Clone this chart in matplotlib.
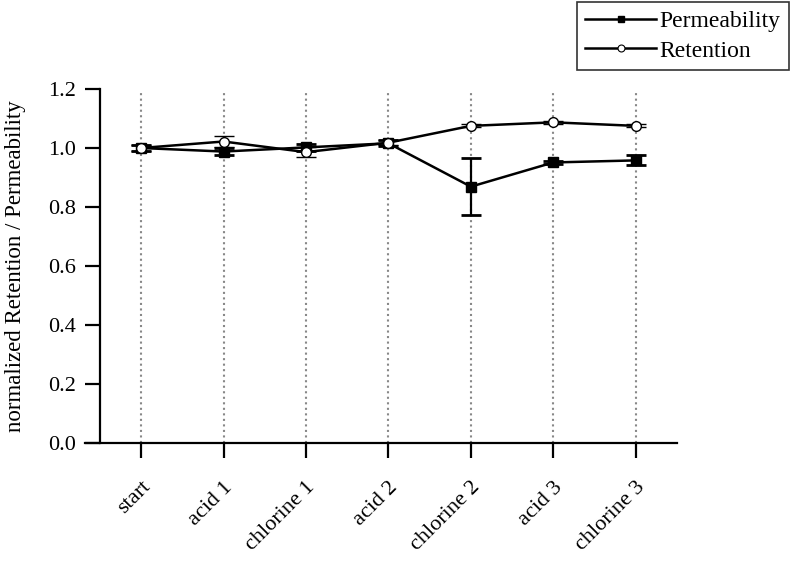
import matplotlib
matplotlib.use("Agg")
import matplotlib.pyplot as plt
from matplotlib.lines import Line2D

# data
steps = ["start", "acid 1", "chlorine 1", "acid 2", "chlorine 2", "acid 3", "chlorine 3"]
perm = [1.000, 0.988, 1.002, 1.016, 0.869, 0.951, 0.958]
perm_err = [0.010, 0.013, 0.012, 0.010, 0.096, 0.006, 0.017]
ret = [1.000, 1.022, 0.986, 1.018, 1.075, 1.087, 1.075]
ret_err = [0.010, 0.018, 0.016, 0.008, 0.005, 0.005, 0.005]

plt.rcParams["font.family"] = ["Liberation Serif", "DejaVu Serif"]

fig = plt.figure(figsize=(7.95, 5.62), dpi=100)
ax = fig.add_axes([85 / 795, 119 / 562, 592 / 795, 354 / 562])

x = list(range(len(steps)))

# dotted guide lines at each step
for xi in x:
    ax.plot([xi, xi], [0, 1.185], ":", color="#888888", lw=1.5, zorder=0)

ax.errorbar(x, perm, yerr=perm_err, color="black", lw=1.8, marker="s", ms=7,
            mfc="black", mec="black", capsize=7, capthick=2.0, elinewidth=1.6,
            zorder=3)
ax.errorbar(x, ret, yerr=ret_err, color="black", lw=1.8, marker="o", ms=7,
            mfc="white", mec="black", mew=1.0, capsize=7, capthick=2.0,
            elinewidth=1.6, zorder=4)

ax.set_xlim(-0.68, 6.5)
ax.set_ylim(0, 1.2)
ax.spines["top"].set_visible(False)
ax.spines["right"].set_visible(False)
ax.spines["left"].set_position(("data", -0.5))
ax.spines["left"].set_linewidth(1.6)
ax.spines["bottom"].set_linewidth(1.6)

ax.set_yticks([0.0, 0.2, 0.4, 0.6, 0.8, 1.0, 1.2])
ax.set_yticklabels(["0.0", "0.2", "0.4", "0.6", "0.8", "1.0", "1.2"])
ax.set_xticks(x)
ax.set_xticklabels(steps, rotation=45, ha="right", rotation_mode="anchor")
ax.tick_params(axis="both", direction="out", length=11, width=1.6, labelsize=16)
ax.tick_params(axis="x", pad=14)
ax.tick_params(axis="y", pad=6)

ax.set_ylabel("normalized Retention / Permeability", fontsize=16.5, labelpad=16)

handles = [
    Line2D([], [], color="black", lw=1.8, marker="s", ms=5, mfc="black"),
    Line2D([], [], color="black", lw=1.8, marker="o", ms=5, mfc="white", mew=0.8),
]
leg = fig.legend(handles, ["Permeability", "Retention"], loc="upper right",
                 bbox_to_anchor=(789 / 795, 1 - 2 / 562), frameon=True,
                 fancybox=False, fontsize=17, handlelength=3.0,
                 borderpad=0.35, labelspacing=0.35, handletextpad=0.15,
                 borderaxespad=0)
leg.get_frame().set_edgecolor("black")
leg.get_frame().set_linewidth(1.2)

fig.savefig("out.png", dpi=100)
